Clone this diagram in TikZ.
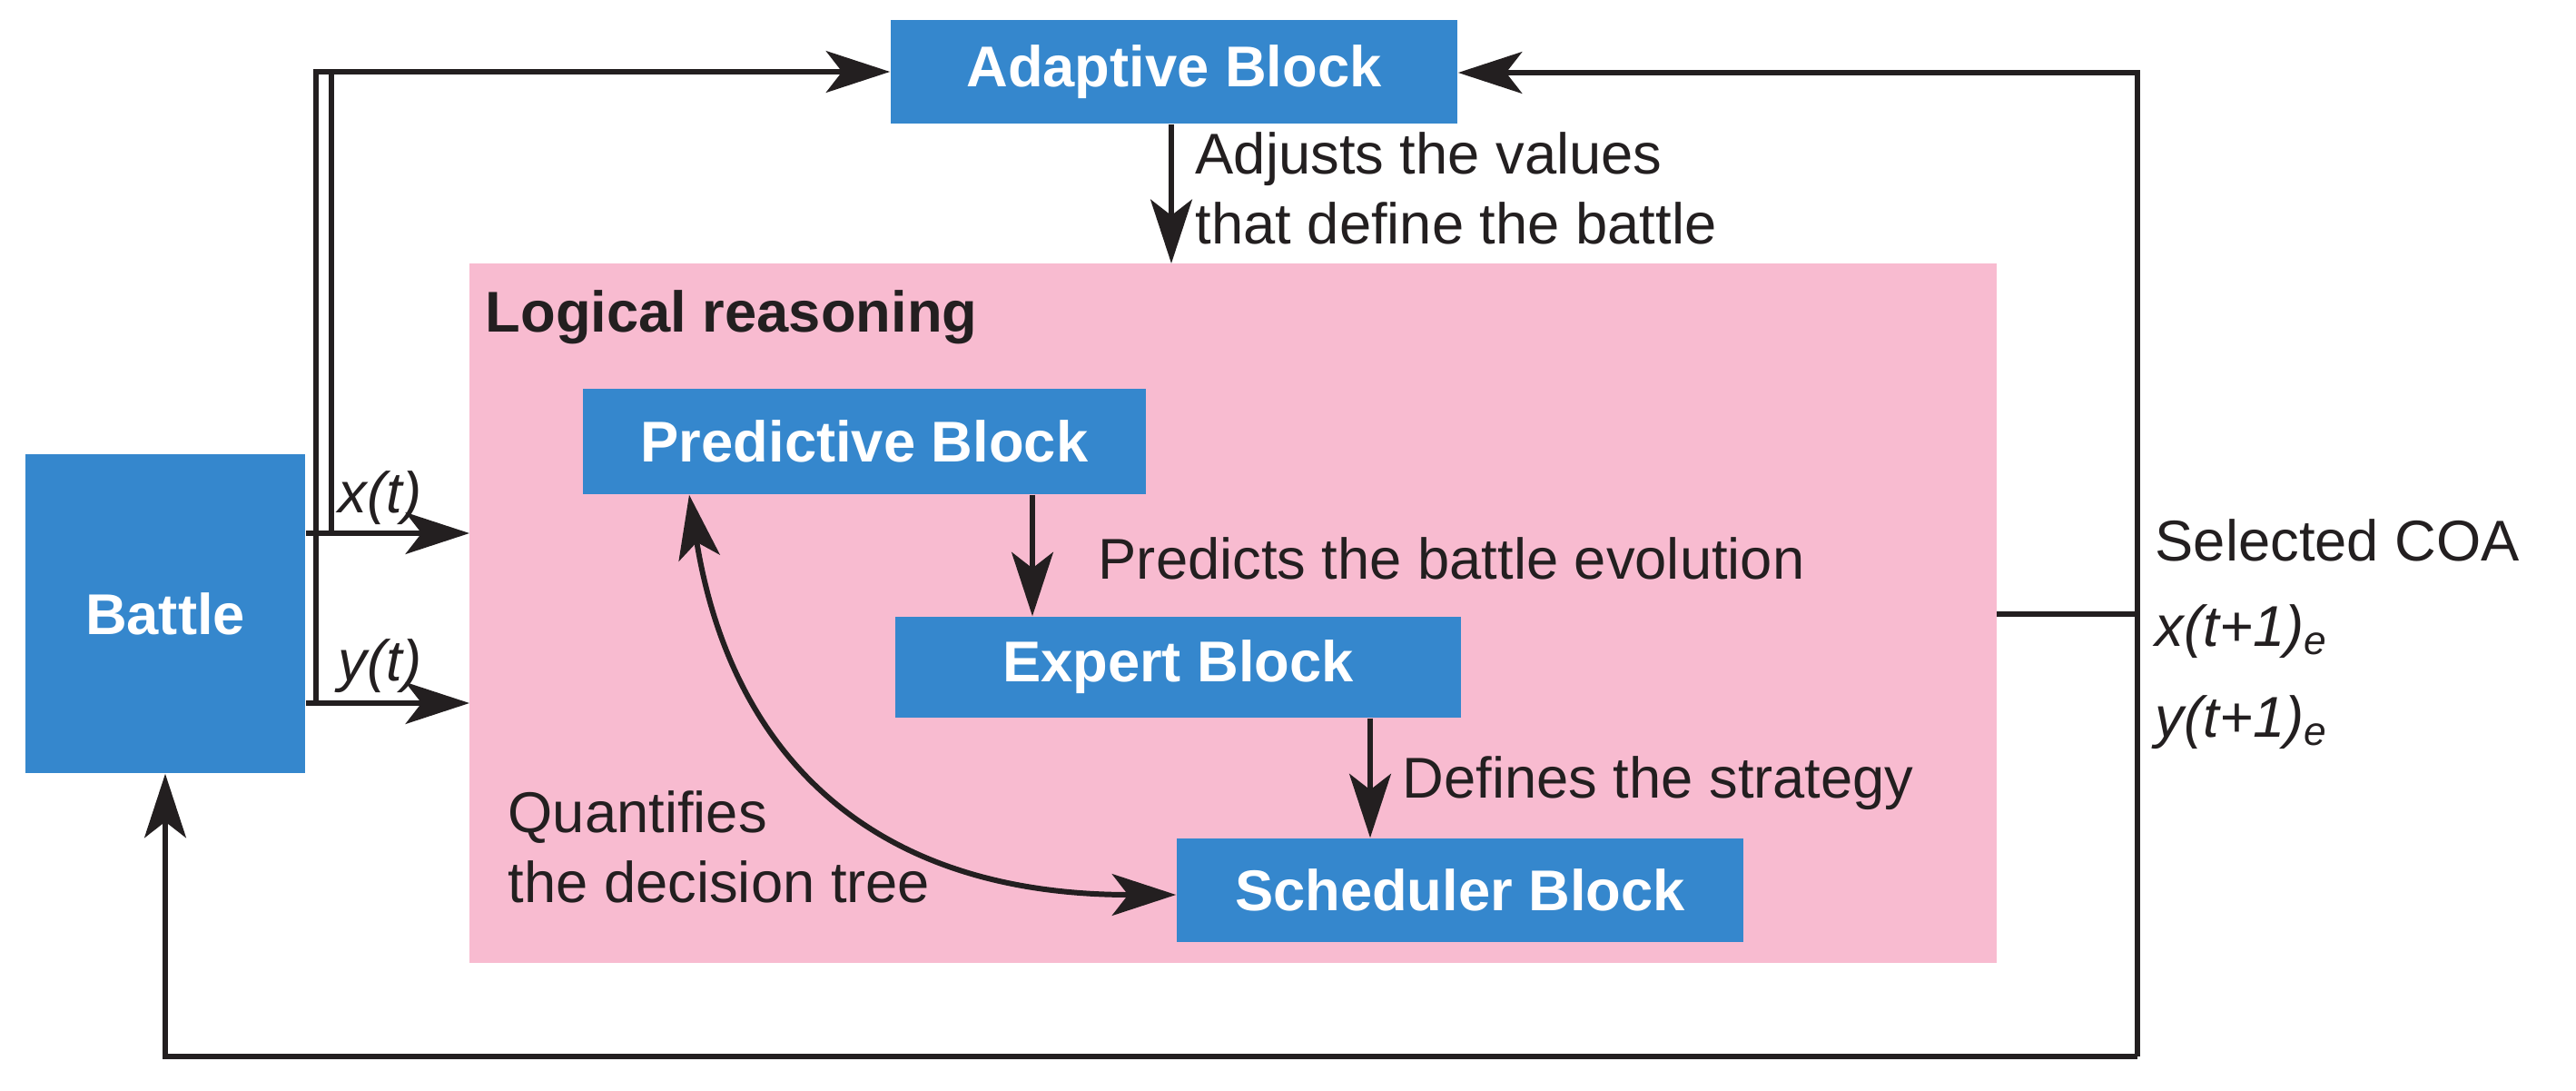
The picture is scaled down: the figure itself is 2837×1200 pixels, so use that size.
\documentclass[tikz,border=0pt]{standalone}
\usepackage{fontspec}
\setmainfont{Liberation Sans}
\usetikzlibrary{arrows.meta}
\definecolor{bblue}{HTML}{3587CD}
\definecolor{pinkbg}{HTML}{F8BBD0}
\definecolor{ink}{HTML}{231F20}
\begin{document}
\begin{tikzpicture}[x=0.01cm,y=-0.01cm,
  blk/.style={fill=bblue,text=white,font=\fontsize{18}{20}\selectfont\bfseries,inner sep=0pt,anchor=center},
  lbl/.style={text=ink,font=\fontsize{18}{22}\selectfont,inner sep=0pt},
  ln/.style={draw=ink,line width=1.7pt},
  arr/.style={ln,-{Stealth[length=20pt,width=13pt,inset=5pt]}}]
\useasboundingbox (0,0) rectangle (2837,1200);
\fill[pinkbg] (517,290) rectangle (2199,1060);
\coordinate (pinkE) at (2199,676);
\node[blk,minimum width=3.08cm,minimum height=3.51cm] (Battle) at (182,675.5) {Battle};
\node[blk,minimum width=6.24cm,minimum height=1.14cm] (Adaptive) at (1293,79) {Adaptive Block};
\node[blk,minimum width=6.20cm,minimum height=1.16cm] (Pred) at (952,486) {Predictive Block};
\node[blk,minimum width=6.23cm,minimum height=1.11cm] (Expert) at (1297.5,734.5) {Expert Block};
\node[blk,minimum width=6.24cm,minimum height=1.14cm] (Sched) at (1608,980) {Scheduler Block};
\node[lbl,anchor=west,font=\fontsize{18}{20}\selectfont\bfseries] (LR) at (534,349) {Logical reasoning};
\node[lbl,anchor=north west,align=left] (adj) at (1316,145) {Adjusts the values\\that define the battle};
\node[lbl,anchor=west] (pr) at (1209,615) {Predicts the battle evolution};
\node[lbl,anchor=west] (df) at (1544,862) {Defines the strategy};
\node[lbl,anchor=north west,align=left] (qt) at (559,870) {Quantifies\\the decision tree};
\node[lbl,anchor=west,font=\fontsize{18}{20}\selectfont\itshape] (xl) at (372,548) {x(t)};
\node[lbl,anchor=west,font=\fontsize{18}{20}\selectfont\itshape] (yl) at (372,733) {y(t)};
\node[lbl,anchor=west] (coa) at (2373,595) {Selected COA};
\node[lbl,anchor=west,font=\fontsize{18}{20}\selectfont\itshape] (xe) at (2373,695) {x(t+1)$_{\mathit{e}}$};
\node[lbl,anchor=west,font=\fontsize{18}{20}\selectfont\itshape] (ye) at (2373,795) {y(t+1)$_{\mathit{e}}$};
\coordinate (xin) at (517,587);
\coordinate (yin) at (517,774);
\coordinate (pinkT) at (1290,290);
\coordinate (o1) at (348,774);
\coordinate (o2) at (348,79);
\coordinate (i1) at (365,587);
\coordinate (i2) at (365,79);
\coordinate (r1) at (2354,676);
\coordinate (r2) at (2354,80);
\coordinate (r3) at (2354,1163);
\coordinate (b1) at (182,1163);
\draw[arr] (Battle.east|-xin) -- (xin);
\draw[arr] (Battle.east|-yin) -- (yin);
\draw[arr] (o1) -- (o2) -- (Adaptive.west);
\draw[ln] (i1) -- (i2);
\draw[arr] (Adaptive.south-|pinkT) -- (pinkT);
\draw[ln] (pinkE) -- (r1);
\draw[arr] (r3) -- (r2) -- (Adaptive.east|-r2);
\draw[arr] (r3) -- (b1) -- (Battle.south);
\draw[arr] (Pred.south-|1137,0) -- (Expert.north-|1137,0);
\draw[arr] (Expert.south-|1509,0) -- (Sched.north-|1509,0);
\draw[ln,{Stealth[length=20pt,width=13pt,inset=5pt]}-{Stealth[length=20pt,width=13pt,inset=5pt]}] (Pred.south-|759,0) .. controls (800,800) and (930,985) .. (Sched.west|-0,985);
\end{tikzpicture}
\end{document}
